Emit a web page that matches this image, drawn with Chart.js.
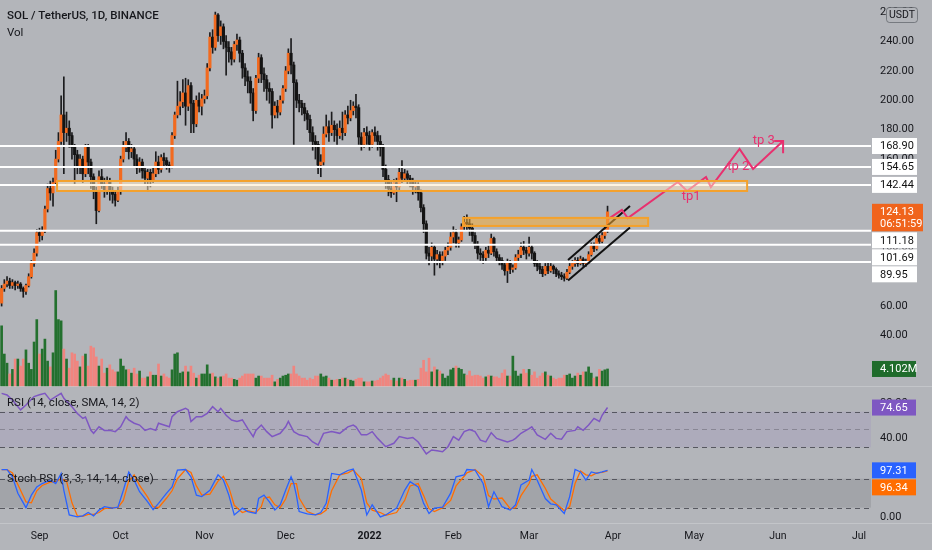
<!DOCTYPE html>
<html>
<head>
<meta charset="utf-8">
<title>SOL / TetherUS 1D</title>
<script src="https://cdn.jsdelivr.net/npm/chart.js@4.4.1/dist/chart.umd.min.js"></script>
<style>
  html, body { margin: 0; padding: 0; background: #b3b5ba; }
  #wrap { position: relative; width: 932px; height: 550px; overflow: hidden; }
  #wrap canvas { position: absolute; left: 0; }
</style>
</head>
<body>
<div id="wrap">
  <canvas id="priceChart" width="932" height="387" style="top:0"></canvas>
  <canvas id="rsiChart" width="932" height="70" style="top:388px"></canvas>
  <canvas id="stochChart" width="932" height="91" style="top:459px"></canvas>
</div>
<script>
// day 0 = 1 Sep 2021, first candle = 18 Aug 2021, last = 30 Mar 2022
const firstOpen = 62;
const closes = [
  72,75,77,74,76,74,75,72,70,74,80,89,96,110,
  108,111,126,140,137,144,160,172,190,178,
  181,176,168,163,155,160,150,168,158,148,
  138,125,148,143,139,145,138,136,132,138,
  160,168,172,165,167,160,154,158,152,147,
  151,146,150,158,153,161,159,156,155,176,
  190,196,199,205,196,210,198,184,200,196,
  201,203,222,243,236,258,244,250,240,236,
  233,228,238,241,232,222,216,213,205,193,
  215,229,218,214,208,206,190,196,192,200,
  208,220,232,224,212,200,198,195,191,187,
  178,172,170,156,158,177,182,178,183,180,
  176,181,178,190,188,193,196,195,175,170,
  178,176,170,178,176,172,168,153,146,140,
  137,144,141,151,147,150,147,145,141,142,
  137,127,116,96,94,100,92,95,91,94,
  98,100,107,110,103,105,114,117,116,113,
  108,102,96,95,93,98,96,106,97,93,
  91,88,84,90,85,86,93,95,100,98,
  96,100,96,89,87,85,82,87,84,87,
  85,82,81,80,79,83,87,89,91,89,
  92,89,90,95,101,99,106,104,108,112,124.13
];
const highs = [
  74,78,80,79,78,77,77,76,73,75,82,91,99,112,
  113,114,128,143,145,147,166,178,203,216,
  192,186,178,170,166,163,162,170,170,160,
  150,141,152,153,147,148,147,141,138,141,
  162,172,178,174,170,169,163,161,160,155,
  153,153,154,165,162,163,164,161,158,178,
  192,213,206,214,215,214,212,200,203,205,
  204,207,225,246,248,260,259,254,252,244,
  240,236,240,245,243,234,225,220,216,208,
  217,232,231,222,217,212,208,199,200,203,
  210,223,235,242,226,214,204,200,198,193,
  190,182,176,172,163,182,190,186,192,186,
  184,186,192,193,196,200,199,204,197,178,
  181,182,179,180,182,179,176,170,156,149,
  145,146,147,154,159,153,152,149,147,145,
  144,139,129,118,100,103,102,98,97,97,
  100,103,110,114,112,107,116,121,122,119,
  116,110,104,99,97,100,101,109,107,99,
  95,93,90,92,91,88,95,98,103,104,
  100,107,102,97,91,89,87,89,89,89,
  88,86,84,83,82,85,89,91,93,93,
  94,93,92,97,103,103,108,108,110,114,128
];
const lows = [
  60,70,73,72,72,71,72,70,66,68,73,79,87,94,
  104,105,110,124,132,128,142,158,170,150,
  172,168,160,142,150,150,144,148,150,140,
  133,116,124,140,134,136,132,130,128,131,
  136,158,165,160,161,155,150,151,147,143,
  138,141,144,148,150,151,155,153,151,154,
  174,188,190,195,183,193,178,178,182,192,
  190,198,201,220,232,234,240,238,235,217,
  226,224,226,234,226,215,210,205,198,186,
  191,212,212,206,200,198,181,188,188,190,
  198,206,218,218,170,195,192,190,186,180,
  172,166,160,150,148,156,175,172,176,172,
  170,174,173,176,184,186,190,188,170,166,
  168,170,166,168,172,166,162,148,140,135,
  134,136,131,139,144,145,143,141,136,137,
  132,124,110,92,88,90,81,88,86,88,
  91,95,98,103,100,100,104,112,112,108,
  104,99,92,91,89,91,93,95,94,90,
  88,85,81,76,82,83,85,91,93,95,
  92,94,92,87,84,82,80,81,82,83,
  82,80,79,78,77,78,82,85,87,87,
  88,87,87,89,94,97,98,102,103,106,110
];
// volume in millions
const volumes = [
  14.5,7.7,5.5,2.9,4,6.5,6.5,4.8,6.5,8.7,5.5,4,10.6,16,
  7.7,8.9,11.3,6,4.6,8,23,16,15.7,8.9,
  6.5,4.3,8,7.7,6,4.6,7.2,7.7,4.8,9.6,
  9.2,7,4.8,6.5,3.1,4.3,5.1,3.9,3.4,3.4,
  6.5,4.8,3.9,4,3.1,4.3,2.9,3.6,1.9,1.9,
  2.2,3.4,2.6,2.6,5.3,2.4,2.9,2.2,1.9,3.9,
  7.7,8,3.1,3.4,4.8,3.4,4.8,3.1,1.9,2.6,
  2.9,2.9,5.1,2.9,3.1,2.2,1.9,2.2,2.4,2.9,
  1.9,1.9,1.6,1.4,1.9,2.4,2.9,2.9,2.9,2.9,
  1.9,2.4,2.4,1.9,1.9,1.9,2.6,1,1.6,1.9,
  2.4,2.6,2.9,2.9,4.8,2.9,2.4,1.9,1.9,1.4,
  1.9,1.6,2.4,2.4,2.9,2.2,2.4,1.9,1.4,1.4,
  1.6,1.6,1.9,1.9,1.6,1.4,1.2,1.6,1.9,1.9,
  1,1,1,1.2,1.2,1.4,1.9,2.4,2.9,2.6,
  1.4,1.9,1.2,1.9,1.9,1.6,1.2,1.4,1.4,1.4,
  1.6,4.3,6.2,3.4,6.7,3.4,4.6,3.9,3.6,2.9,
  1.9,2.4,3.9,4.3,4.8,4.3,4,2.9,2.6,3.6,
  2.4,2.6,2.6,2.4,1.9,2.2,2.6,2.4,2.2,2.2,
  1.9,3.1,3.9,2.4,2.4,7.2,3.6,2.4,2.9,4,
  3.1,4,2.6,3.4,1.9,2.4,3.1,3.4,2.6,2.4,
  1.9,1.6,1.9,1.9,2.6,2.6,2.9,1.9,2.4,3.1,
  2.6,3.4,3.4,4.6,3.1,1.9,2.2,4,3.6,3.9,4.102
];

const rsiDays = [-14,-12,-10,-7,-5,-2,0,2,4,6,8,9,12,14,16,17,19,20,22,24,26,28,30,32,33,35,37,39,41,43,
  44,46,48,49,51,54,55,56,58,60,62,64,66,67,69,71,73,75,77,79,80,82,84,86,89,91,92,94,96,99,
  101,103,105,108,111,114,116,117,119,121,123,125,128,131,133,136,138,140,143,145,147,149,151,153,155,157,159,161,163,165,
  167,169,171,173,175,176,178,181,182,184,187,189,191,193,195,198,199,201,203,205,207,208,210];
const rsiValues = [90.6,88.7,83,72,77.5,87,89,90.6,83,87,90.6,85,75.6,68,62.5,64,49,45.7,53,49,49,47.6,53,64.4,60.7,57,55,49,51,49,
  57,55,53,64.4,70,73.7,72,59,64.4,64.4,68,75.6,70,73.7,66,60.7,59,60.7,51,42,49,55,47.6,42,45.7,53,59,47.6,44,42,
  36,32.6,45.7,47.6,45.7,53,55,53,44,44,47.6,40,30.7,34.5,42,40,41,36,22.5,27,26,25,30.7,42,38,47.6,50,47.6,38,36,
  46.4,40,38,36,38,40,45.7,51,53,44,39,45.7,40,39,47.6,49,53,49,55,62.5,59,66,74.65];

const kDays = [-14,-12,-10,-8,-5,-3,-1,1,4,6,8,9,11,14,16,18,20,22,24,27,29,31,33,35,37,40,42,44,47,49,
  51,54,56,58,60,63,66,68,70,72,75,77,80,81,83,85,87,89,91,93,94,95,96,99,102,104,106,107,108,111,
  114,116,119,121,123,126,128,132,135,137,140,142,144,146,149,152,154,157,158,161,
  164,166,168,171,174,176,178,181,182,184,187,189,191,194,196,198,200,202,204,206,208,210];
const kValues = [99,99,84,50,20,46,63,70,77,70,91,56,5,1,3,10,3,15,22,19,21,56,94,77,53,32,16,29,50,63,
  98,99,84,46,43,56,88,77,46,5,19,12,8,39,46,32,15,26,56,84,70,45,12,7,5,10,29,60,91,88,
  97,100,56,5,26,1,5,19,56,74,63,29,8,19,21,50,84,88,99,98,
  70,22,53,22,15,26,67,77,99,77,39,28,26,8,43,99,94,77,94,91,94,97.31];
const dDays = [-14,-12,-10,-8,-5,-3,-1,1,4,6,8,10,12,14,16,18,20,22,24,27,29,31,33,35,37,40,42,44,47,49,
  51,54,56,58,60,63,66,68,70,72,75,77,80,82,83,85,87,89,91,93,95,96,99,102,104,106,108,111,114,116,
  119,121,123,126,128,132,135,137,140,142,144,146,149,152,154,157,158,161,164,166,
  168,171,174,176,178,181,182,184,187,189,191,194,196,198,200,202,204,206,208,210];
const dValues = [99,99,92,68,32,30,55,66,73,74,80,75,30,3,2,6,6,10,18,20,20,35,75,88,66,42,22,20,40,55,
  80,99,93,65,46,48,75,85,62,25,10,14,10,22,40,42,26,20,38,70,70,40,12,5,7,15,55,88,92,98,
  80,30,15,10,4,10,35,65,70,45,18,12,20,35,65,85,92,99,85,45,
  38,40,18,20,45,70,85,88,60,38,28,14,22,70,96,88,86,92,93,96.34];

const levels = [168.90, 154.65, 142.44, 111.18, 101.69, 89.95];
const priceTicks = [40, 60, 80, 100, 120, 140, 160, 180, 200, 220, 240, 260];
const monthTicks = [0, 30, 61, 91, 122, 153, 181, 212, 242, 273, 303];
const monthLabels = ['Sep', 'Oct', 'Nov', 'Dec', '2022', 'Feb', 'Mar', 'Apr', 'May', 'Jun', 'Jul'];

// drawings (day, price)
const zoneFrom = [6.5, 156.6], zoneTo = [261.6, 225];
const zoneTop = [145.1, 120], zoneBottom = [138.3, 114.5];
const channelDays = [195.4, 218.3];
const channelUpper = [91.3, 128.1], channelLower = [77.4, 113.4];
const pathDays = [210.2, 215.3, 217.5, 236.0, 239.4, 246.4, 248.2, 258.8, 263.8, 274.9];
const pathPrices = [119.2, 125.4, 119.9, 144.4, 138.3, 147.8, 141.0, 166.9, 153.3, 172.3];
const arrowDays = [271.6, 274.9, 274.9], arrowPrices = [172.3, 172.3, 164.0];
const targetText = ['tp1', 'tp 2', 'tp 3'];
const targetDays = [240.9, 258.3, 267.8], targetPrices = [134.2, 154.6, 172.3];

const X_MIN = -14.6, X_MAX = 307.4, AXIS_W = 61;
const BG = '#b3b5ba';
const UP = '#f26a1f', DOWN = '#141414', WICK = '#1c1c1e', VOL_UP = '#23702e', VOL_DOWN = '#f0857f';
const PINK = '#e8306f', TEXT = '#16171c', FONT = 'Roboto';

const days = closes.map((c, i) => i - 14);
// market is 24/7, each daily candle opens at the previous close
const opens = closes.map((c, i) => i === 0 ? firstOpen : closes[i - 1]);
const candleColors = closes.map((c, i) => c >= opens[i] ? UP : DOWN);
const volColors = closes.map((c, i) => c >= opens[i] ? VOL_UP : VOL_DOWN);

function pts(xs, ys) { return xs.map((x, i) => ({x: x, y: ys[i]})); }

// scale labels may hang over the pane edges like in the original
function noPad(s) { s.paddingTop = 0; s.paddingBottom = 0; s.paddingLeft = 0; s.paddingRight = 0; }

function xAxis(show) {
  return {
    type: 'linear', min: X_MIN, max: X_MAX, offset: false, display: show,
    grid: {display: false, drawTicks: false, offset: false},
    border: {display: false},
    afterBuildTicks: s => { s.ticks = monthTicks.map(v => ({value: v})); },
    afterFit: s => { noPad(s); if (show) s.height = 27; },
    ticks: {
      autoSkip: false, maxRotation: 0, padding: 7, color: TEXT,
      font: c => ({family: FONT, size: 10.5, weight: c.tick && c.tick.value === 122 ? 'bold' : 'normal'}),
      callback: (v, i) => monthLabels[i]
    }
  };
}

function yAxis(min, max, ticks) {
  return {
    position: 'right', min: min, max: max,
    afterFit: s => { noPad(s); s.width = AXIS_W; },
    afterBuildTicks: s => { s.ticks = ticks.map(v => ({value: v})); },
    grid: {display: false, drawTicks: false},
    border: {display: false},
    ticks: {autoSkip: false, padding: 9, color: TEXT, font: {family: FONT, size: 11}, callback: v => v.toFixed(2)}
  };
}

// value tags on the price scale, pushed down when they overlap
function drawTags(ctx, tags) {
  ctx.save();
  ctx.font = '11px ' + FONT;
  ctx.textBaseline = 'middle';
  ctx.textAlign = 'left';
  let prevBottom = -1e9;
  tags.sort((a, b) => a.y - b.y).forEach(t => {
    const h = 16 + (t.lines.length - 1) * 11.5;
    const top = Math.max(t.y - 8, prevBottom + 1);
    prevBottom = top + h;
    ctx.fillStyle = t.bg;
    ctx.fillRect(872, top, t.w || 45, h);
    ctx.fillStyle = t.fg;
    t.lines.forEach((ln, k) => ctx.fillText(ln, 880, top + 8.5 + k * 11.5));
  });
  ctx.restore();
}

function hLine(ctx, area, y, color, dash) {
  ctx.strokeStyle = color;
  ctx.lineWidth = 1;
  ctx.setLineDash(dash);
  ctx.beginPath();
  ctx.moveTo(area.left, Math.round(y) + 0.5);
  ctx.lineTo(area.right, Math.round(y) + 0.5);
  ctx.stroke();
  ctx.setLineDash([]);
}

const baseOptions = {
  responsive: false, animation: false, devicePixelRatio: 1,
  layout: {padding: 0, autoPadding: false},
  plugins: {legend: {display: false}, tooltip: {enabled: false}}
};

// ---------- price pane ----------
const priceExtras = {
  id: 'priceExtras',
  afterDatasetsDraw(chart) {
    const {ctx, scales: {x, y}} = chart;
    ctx.save();
    const fills = ['rgba(255,234,196,0.5)', 'rgba(246,172,52,0.55)'];
    zoneFrom.forEach((f, i) => {
      const x0 = x.getPixelForValue(f), x1 = x.getPixelForValue(zoneTo[i]);
      const y0 = y.getPixelForValue(zoneTop[i]), y1 = y.getPixelForValue(zoneBottom[i]);
      ctx.fillStyle = fills[i];
      ctx.fillRect(x0, y0, x1 - x0, y1 - y0);
      ctx.strokeStyle = '#f4a12c';
      ctx.lineWidth = 2;
      ctx.strokeRect(x0, y0, x1 - x0, y1 - y0);
    });
    ctx.fillStyle = PINK;
    ctx.font = '13px ' + FONT;
    ctx.textAlign = 'center';
    ctx.textBaseline = 'middle';
    targetText.forEach((t, i) => ctx.fillText(t, x.getPixelForValue(targetDays[i]), y.getPixelForValue(targetPrices[i])));
    ctx.restore();
  },
  afterDraw(chart) {
    const {ctx, chartArea: a, scales: {y, vol}} = chart;
    ctx.save();
    // pane separator
    ctx.fillStyle = 'rgba(255,255,255,0.22)';
    ctx.fillRect(0, a.bottom - 1, 932, 1);
    ctx.fillStyle = TEXT;
    ctx.textBaseline = 'middle';
    ctx.font = '500 11.5px ' + FONT;
    ctx.fillText('SOL / TetherUS, 1D, BINANCE', 7, 16);
    ctx.font = '11.5px ' + FONT;
    ctx.fillText('Vol', 7, 33);
    // currency box
    ctx.fillStyle = BG;
    ctx.strokeStyle = 'rgba(70,72,80,0.55)';
    ctx.lineWidth = 1;
    ctx.beginPath();
    ctx.roundRect(886.5, 7.5, 31, 15, 3);
    ctx.fill();
    ctx.stroke();
    ctx.fillStyle = TEXT;
    ctx.font = '10.5px ' + FONT;
    ctx.textAlign = 'center';
    ctx.fillText('USDT', 902, 15.5);
    ctx.restore();

    const tags = levels.map(v => ({y: y.getPixelForValue(v), lines: [v.toFixed(2)], bg: '#ffffff', fg: '#111'}));
    tags.push({y: y.getPixelForValue(closes[closes.length - 1]), lines: [closes[closes.length - 1].toFixed(2), '06:51:59'], bg: '#f0641c', fg: '#fff', w: 51});
    drawTags(ctx, tags);
    drawTags(ctx, [{y: vol.getPixelForValue(volumes[volumes.length - 1]), lines: [volumes[volumes.length - 1].toFixed(3) + 'M'], bg: '#1f6b2b', fg: '#fff', w: 44}]);
  }
};

const lineStyle = {type: 'line', pointRadius: 0, tension: 0, fill: false};

new Chart(document.getElementById('priceChart'), {
  type: 'bar',
  data: {
    datasets: [
      ...levels.map(v => Object.assign({}, lineStyle, {data: pts([-20, 320], [v, v]), borderColor: '#ffffff', borderWidth: 2, order: 2})),
      Object.assign({}, lineStyle, {data: pts(channelDays, channelUpper), borderColor: '#111', borderWidth: 2, order: 1}),
      Object.assign({}, lineStyle, {data: pts(channelDays, channelLower), borderColor: '#111', borderWidth: 2, order: 1}),
      Object.assign({}, lineStyle, {data: pts(pathDays, pathPrices), borderColor: PINK, borderWidth: 2, order: 0}),
      Object.assign({}, lineStyle, {data: pts(arrowDays, arrowPrices), borderColor: PINK, borderWidth: 2, order: 0}),
      {data: days.map((d, i) => ({x: d, y: [lows[i], highs[i]]})), backgroundColor: WICK, barThickness: 1, grouped: false, order: 4},
      {data: days.map((d, i) => ({x: d, y: [opens[i], closes[i]]})), backgroundColor: candleColors, barThickness: 2.5, minBarLength: 1, grouped: false, order: 3},
      {data: pts(days, volumes), yAxisID: 'vol', backgroundColor: volColors, barThickness: 2, grouped: false, order: 5}
    ]
  },
  options: Object.assign({}, baseOptions, {
    scales: {
      x: xAxis(false),
      y: yAxis(4.95, 268.22, priceTicks),
      vol: {axis: 'y', display: false, min: -0.24, max: 93}
    }
  }),
  plugins: [priceExtras]
});

// ---------- RSI pane ----------
const rsiExtras = {
  id: 'rsiExtras',
  beforeDatasetsDraw(chart) {
    const {ctx, chartArea: a, scales: {y}} = chart;
    ctx.save();
    ctx.fillStyle = 'rgba(126,87,194,0.1)';
    ctx.fillRect(a.left, y.getPixelForValue(70), a.right - a.left, y.getPixelForValue(30) - y.getPixelForValue(70));
    hLine(ctx, a, y.getPixelForValue(70), 'rgba(70,72,80,0.85)', [5, 4]);
    hLine(ctx, a, y.getPixelForValue(50), 'rgba(90,92,100,0.45)', [5, 4]);
    hLine(ctx, a, y.getPixelForValue(30), 'rgba(70,72,80,0.85)', [5, 4]);
    ctx.restore();
  },
  afterDraw(chart) {
    const {ctx, scales: {y}} = chart;
    ctx.save();
    ctx.fillStyle = TEXT;
    ctx.font = '11.5px ' + FONT;
    ctx.textBaseline = 'middle';
    ctx.fillText('RSI (14, close, SMA, 14, 2)', 7, 15);
    ctx.restore();
    const last = rsiValues[rsiValues.length - 1];
    drawTags(ctx, [{y: y.getPixelForValue(last), lines: [last.toFixed(2)], bg: '#7e57c2', fg: '#fff', w: 44}]);
  }
};

new Chart(document.getElementById('rsiChart'), {
  type: 'line',
  data: {datasets: [Object.assign({}, lineStyle, {data: pts(rsiDays, rsiValues), borderColor: '#7e57c2', borderWidth: 1.5})]},
  options: Object.assign({}, baseOptions, {scales: {x: xAxis(false), y: yAxis(17.98, 96.6, [40, 80])}}),
  plugins: [rsiExtras]
});

// ---------- Stoch RSI pane ----------
const stochExtras = {
  id: 'stochExtras',
  beforeDatasetsDraw(chart) {
    const {ctx, chartArea: a, scales: {y}} = chart;
    ctx.save();
    ctx.fillStyle = 'rgba(0,0,0,0.09)';
    ctx.fillRect(a.left, y.getPixelForValue(80), a.right - a.left, y.getPixelForValue(20) - y.getPixelForValue(80));
    hLine(ctx, a, y.getPixelForValue(80), 'rgba(70,72,80,0.85)', [5, 4]);
    hLine(ctx, a, y.getPixelForValue(20), 'rgba(70,72,80,0.85)', [5, 4]);
    ctx.restore();
  },
  afterDraw(chart) {
    const {ctx, chartArea: a, scales: {y}} = chart;
    ctx.save();
    ctx.fillStyle = 'rgba(255,255,255,0.22)';
    ctx.fillRect(0, a.bottom, 932, 1);
    ctx.fillStyle = TEXT;
    ctx.font = '11.5px ' + FONT;
    ctx.textBaseline = 'middle';
    ctx.fillText('Stoch RSI (3, 3, 14, 14, close)', 7, 20);
    ctx.restore();
    const k = kValues[kValues.length - 1], d = dValues[dValues.length - 1];
    drawTags(ctx, [
      {y: y.getPixelForValue(k), lines: [k.toFixed(2)], bg: '#2962ff', fg: '#fff', w: 44},
      {y: y.getPixelForValue(d), lines: [d.toFixed(2)], bg: '#ff6d00', fg: '#fff', w: 44}
    ]);
  }
};

new Chart(document.getElementById('stochChart'), {
  type: 'line',
  data: {datasets: [
    Object.assign({}, lineStyle, {data: pts(kDays, kValues), borderColor: '#2962ff', borderWidth: 1.3}),
    Object.assign({}, lineStyle, {data: pts(dDays, dValues), borderColor: '#ff6d00', borderWidth: 1.3})
  ]},
  options: Object.assign({}, baseOptions, {scales: {x: xAxis(true), y: yAxis(-11.7, 120.8, [0, 100])}}),
  plugins: [stochExtras]
});
</script>
</body>
</html>
